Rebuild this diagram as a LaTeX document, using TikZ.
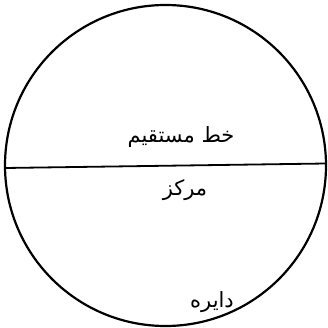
\documentclass[tikz,border=0pt]{standalone}
\usepackage{fontspec}
\newfontfamily\arabicfont[Script=Arabic]{DejaVu Sans}
\TeXXeTstate=1
\begin{document}
\begin{tikzpicture}[x=1pt,y=-1pt,
  lbl/.style={font=\arabicfont\fontsize{21}{24}\selectfont, inner sep=0pt},
  stroke/.style={line width=2.2pt}]
\useasboundingbox (0,0) rectangle (328,328);
\node[stroke, draw, circle, minimum size=321pt, inner sep=0pt] (c) at (165.5,165.5) {};
\coordinate (l) at (5,168);
\coordinate (r) at (326,163.5);
\draw[line width=1.8pt] (l) -- (r);
\node[lbl] (khat) at (181,137) {\beginR خط مستقیم\endR};
\node[lbl] (markaz) at (185,190) {\beginR مرکز\endR};
\node[lbl] (dayere) at (212,302) {\beginR دایره\endR};
\end{tikzpicture}
\end{document}
